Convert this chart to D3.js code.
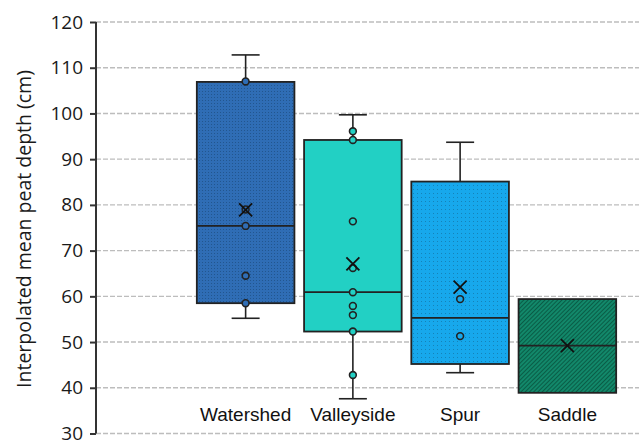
<!DOCTYPE html>
<html>
<head>
<meta charset="utf-8">
<script src="https://cdn.jsdelivr.net/npm/d3@7"></script>
<style>
  body { margin: 0; background: #fff; }
  svg { display: block; }
</style>
</head>
<body>
<div id="chart"></div>
<script>
// chart data
var categories = ["Watershed", "Valleyside", "Spur", "Saddle"];
var q1 = [58.5, 52.3, 45.2, 38.9];
var median = [75.4, 60.9, 55.3, 49.2];
var q3 = [106.9, 94.2, 85.1, 59.4];
var whiskerLow = [55.2, 37.6, 43.3, null];
var whiskerHigh = [112.8, 99.7, 93.7, null];
var means = [78.9, 67.1, 62.0, 49.2];
var points = [
    [107.0, 79.0, 75.4, 64.5, 58.5],
    [96.1, 94.2, 76.4, 66.2, 60.9, 57.9, 55.9, 52.3, 42.8],
    [59.4, 51.3],
    []
];
var yTicks = [30, 40, 50, 60, 70, 80, 90, 100, 110, 120];
var colors = ["#2f6db5", "#22d0c4", "#17a8ec", "#12886a"];

var svgWidth = 639;
var svgHeight = 441;

var svg = d3.select("#chart")
    .append("svg")
    .attr("width", svgWidth)
    .attr("height", svgHeight);

// fill patterns
var defs = svg.append("defs");

var p0 = defs.append("pattern").attr("id", "pat0")
    .attr("patternUnits", "userSpaceOnUse").attr("width", 3).attr("height", 3);
p0.append("rect").attr("width", 3).attr("height", 3).attr("fill", colors[0]);
p0.append("rect").attr("x", 1).attr("y", 1).attr("width", 1).attr("height", 1).attr("fill", "#22568f");

var p2 = defs.append("pattern").attr("id", "pat2")
    .attr("patternUnits", "userSpaceOnUse").attr("width", 4).attr("height", 4);
p2.append("rect").attr("width", 4).attr("height", 4).attr("fill", colors[2]);
p2.append("rect").attr("x", 1).attr("y", 1).attr("width", 1).attr("height", 1).attr("fill", "#1582b8");

var p3 = defs.append("pattern").attr("id", "pat3")
    .attr("patternUnits", "userSpaceOnUse").attr("width", 3).attr("height", 3)
    .attr("patternTransform", "rotate(45)");
p3.append("rect").attr("width", 3).attr("height", 3).attr("fill", colors[3]);
p3.append("rect").attr("width", 1).attr("height", 3).attr("fill", "#0a5c46");

var fills = ["url(#pat0)", colors[1], "url(#pat2)", "url(#pat3)"];

// scales
var yScale = d3.scaleLinear()
    .domain([30, 120])
    .range([433.5, 22]);

var xScale = d3.scaleBand()
    .domain(categories)
    .range([192, 621])
    .paddingInner(0.09)
    .paddingOuter(0.045);

var bw = xScale.bandwidth();

// gridlines
svg.append("g")
    .selectAll("line")
    .data(yTicks)
    .enter()
    .append("line")
    .attr("x1", 96)
    .attr("x2", svgWidth)
    .attr("y1", d => yScale(d))
    .attr("y2", d => yScale(d))
    .attr("stroke", "#bdbdbd")
    .attr("stroke-width", 1.4)
    .attr("stroke-dasharray", "5,2");

// y axis
var leftAxis = d3.axisLeft(yScale)
    .tickValues(yTicks)
    .tickSize(6)
    .tickPadding(7);

var yAxisG = svg.append("g")
    .attr("transform", "translate(96, 0)")
    .call(leftAxis);

yAxisG.select(".domain")
    .attr("d", `M0,${yScale(120)}V${yScale(30)}`)
    .attr("stroke", "#333")
    .attr("stroke-width", 2);
yAxisG.selectAll(".tick line").attr("stroke", "#333").attr("stroke-width", 2);
yAxisG.selectAll(".tick text")
    .attr("font-family", "'Open Sans', sans-serif")
    .attr("font-size", 19)
    .attr("fill", "#1a1a1a");

// y axis title
svg.append("text")
    .attr("transform", "translate(31, 229) rotate(-90)")
    .attr("text-anchor", "middle")
    .attr("font-family", "'Open Sans', sans-serif")
    .attr("font-size", 19.5)
    .attr("fill", "#1a1a1a")
    .text("Interpolated mean peat depth (cm)");

// one group per category
var boxes = svg.append("g")
    .selectAll("g")
    .data(categories)
    .enter()
    .append("g");

// whiskers
boxes.each(function(c, i) {
    if (whiskerLow[i] === null) return;
    var g = d3.select(this);
    var cx = xScale(c) + bw / 2;
    [[whiskerLow[i], q1[i]], [whiskerHigh[i], q3[i]]].forEach(function(w) {
        g.append("line")
            .attr("x1", cx).attr("x2", cx)
            .attr("y1", yScale(w[0])).attr("y2", yScale(w[1]))
            .attr("stroke", "#222").attr("stroke-width", 1.6);
        g.append("line")
            .attr("x1", cx - 14).attr("x2", cx + 14)
            .attr("y1", yScale(w[0])).attr("y2", yScale(w[0]))
            .attr("stroke", "#222").attr("stroke-width", 1.6);
    });
});

// boxes
boxes.append("rect")
    .attr("x", d => xScale(d))
    .attr("width", bw)
    .attr("y", (d, i) => yScale(q3[i]))
    .attr("height", (d, i) => yScale(q1[i]) - yScale(q3[i]))
    .attr("fill", (d, i) => fills[i])
    .attr("stroke", "#222")
    .attr("stroke-width", 1.8);

// medians
boxes.append("line")
    .attr("x1", d => xScale(d))
    .attr("x2", d => xScale(d) + bw)
    .attr("y1", (d, i) => yScale(median[i]))
    .attr("y2", (d, i) => yScale(median[i]))
    .attr("stroke", "#222")
    .attr("stroke-width", 1.8);

// inner points
boxes.each(function(c, i) {
    var cx = xScale(c) + bw / 2;
    d3.select(this).selectAll("circle")
        .data(points[i])
        .enter()
        .append("circle")
        .attr("cx", cx)
        .attr("cy", d => yScale(d))
        .attr("r", 3.4)
        .attr("fill", colors[i])
        .attr("stroke", "#222")
        .attr("stroke-width", 1.6);
});

// mean markers
boxes.append("path")
    .attr("d", function(d, i) {
        var cx = xScale(d) + bw / 2;
        var cy = yScale(means[i]);
        var s = 6.5;
        return `M${cx - s},${cy - s}L${cx + s},${cy + s}M${cx - s},${cy + s}L${cx + s},${cy - s}`;
    })
    .attr("stroke", "#111")
    .attr("stroke-width", 1.8)
    .attr("fill", "none");

// category labels, drawn inside the plot
svg.append("g")
    .selectAll("text")
    .data(categories)
    .enter()
    .append("text")
    .attr("x", d => xScale(d) + bw / 2)
    .attr("y", 421)
    .attr("text-anchor", "middle")
    .attr("font-family", "'Liberation Sans', Arial, sans-serif")
    .attr("font-size", 19)
    .attr("fill", "#111")
    .text(d => d);
</script>
</body>
</html>
